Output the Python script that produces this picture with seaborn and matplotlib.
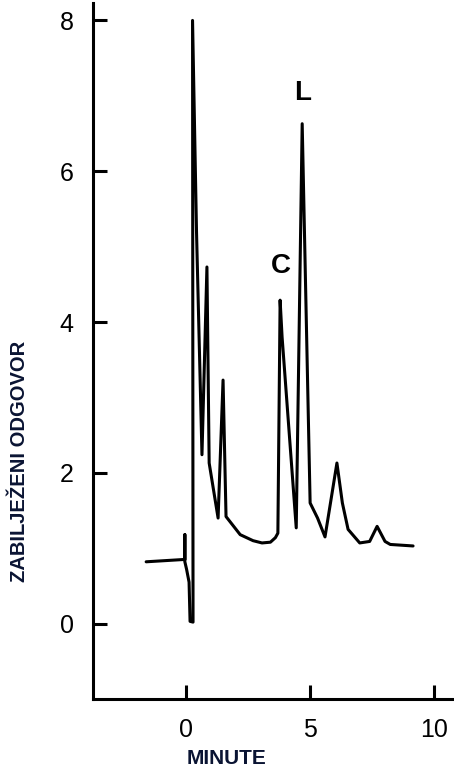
import pandas as pd
import matplotlib
matplotlib.use("Agg")
import matplotlib.pyplot as plt
import seaborn as sns

# retention time (min) and detector response
minute = [-1.61, -0.12, -0.05, -0.05, -0.05, 0.02, 0.12, 0.16, 0.28, 0.26, 0.42, 0.64,
          0.84, 0.93, 1.29, 1.49, 1.61, 2.18, 2.7, 3.06, 3.4, 3.6, 3.7, 3.79, 3.87,
          4.44, 4.68, 5.0, 5.3, 5.6, 6.08, 6.3, 6.53, 7.0, 7.4, 7.7, 8.02, 8.23, 9.15]
response = [0.82, 0.85, 0.85, 1.18, 0.82, 0.72, 0.55, 0.03, 0.02, 8.0, 5.2, 2.24,
            4.73, 2.13, 1.40, 3.23, 1.42, 1.18, 1.1, 1.07, 1.08, 1.14, 1.2, 4.29, 3.8,
            1.27, 6.63, 1.6, 1.4, 1.15, 2.13, 1.6, 1.25, 1.07, 1.09, 1.29, 1.09, 1.05, 1.03]

peak_labels = ["C", "L"]
peak_label_x = [3.83, 4.68]
peak_label_y = [4.65, 6.94]

x_ticks = [0, 5, 10]
y_ticks = [0, 2, 4, 6, 8]

df = pd.DataFrame({"Minute": minute, "Response": response})

sns.set_style("ticks", {"axes.edgecolor": "black", "xtick.color": "black",
                        "ytick.color": "black", "text.color": "black"})
plt.rcParams["font.family"] = ["Liberation Sans", "DejaVu Sans"]

fig = plt.figure(figsize=(4.54, 7.69), dpi=100)
ax = fig.add_axes([0.205, 0.091, 0.795, 0.905])

sns.lineplot(data=df, x="Minute", y="Response", sort=False, estimator=None,
             color="black", linewidth=2.2, ax=ax)

for lab, lx, ly in zip(peak_labels, peak_label_x, peak_label_y):
    ax.text(lx, ly, lab, ha="center", va="baseline", fontsize=20, fontweight="bold")

ax.set_xlim(-3.75, 10.8)
ax.set_ylim(-1, 8.23)
ax.set_xticks(x_ticks)
ax.set_yticks(y_ticks)
ax.tick_params(direction="in", length=10, width=2.2, labelsize=18, pad=14,
               labelcolor="black")
sns.despine(ax=ax)
for side in ["left", "bottom"]:
    ax.spines[side].set_linewidth(2.2)
ax.set_xlabel("")
ax.set_ylabel("")

fig.text(227 / 454, 1 - 759 / 769, "MINUTE", ha="center", va="center",
         fontsize=15, fontweight="bold", color="#0a1433")
fig.text(20 / 454, 1 - 461 / 769, "ZABILJEŽENI ODGOVOR", ha="center", va="center",
         rotation=90, fontsize=14.5, fontweight="bold", color="#0a1433")

fig.savefig("out.png", dpi=100)
